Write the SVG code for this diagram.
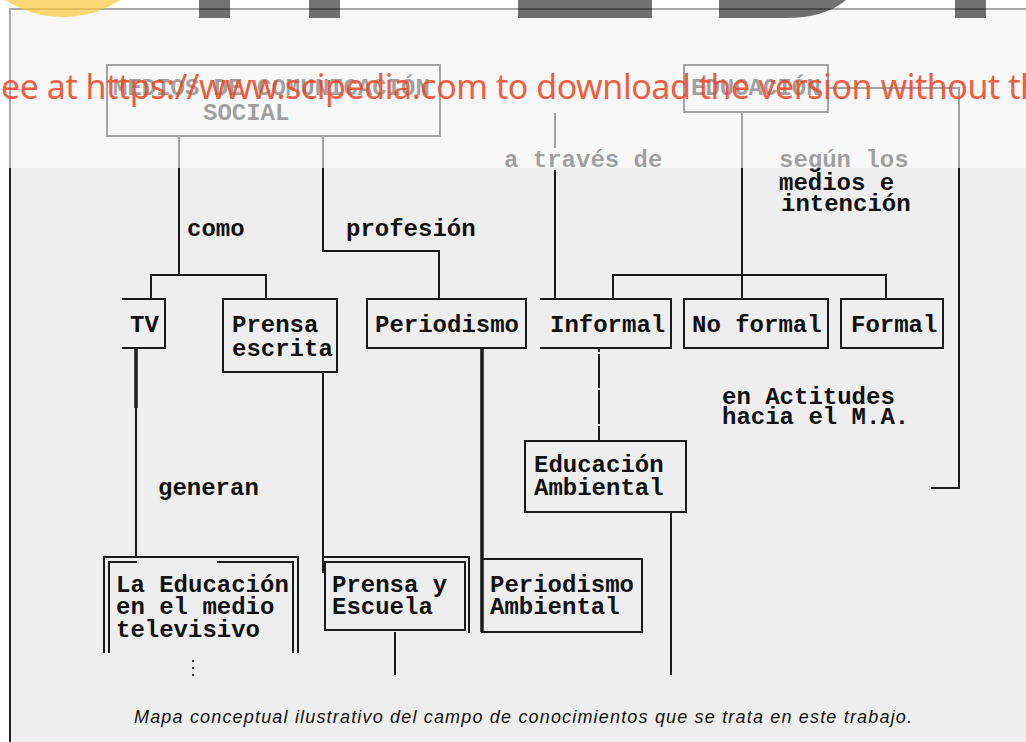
<svg xmlns="http://www.w3.org/2000/svg" width="1026" height="742" viewBox="0 0 1026 742">
<style>
.t{font-family:"Liberation Mono","DejaVu Sans Mono",monospace;font-weight:bold;font-size:24px;fill:#111}
.b{fill:none;stroke:#1a1a1a;stroke-width:2}
.c{fill:none;stroke:#1a1a1a;stroke-width:2}
.k{stroke-width:3.5}
.cap{font-family:"Liberation Sans",Arial,sans-serif;font-style:italic;font-size:18px;fill:#111}
</style>
<rect x="0" y="0" width="1026" height="742" fill="#ffffff"/>
<rect x="10" y="9" width="1020" height="740" fill="#eeeeee" stroke="#222" stroke-width="2"/>

<g id="connectors">
<path class="c" d="M179,136 V275 M151,299 V275 H266 V299"/>
<path class="c" d="M323,136 V251 H439 V299"/>
<path class="c" d="M555,113 V148 M555,170 V299"/>
<path class="c" d="M742,112 V299 M613,299 V275 H886 V299"/>
<path class="c" d="M828,88 H959 V488 H931"/>
<path class="c k" d="M136,348 V408"/>
<path class="c" d="M136,408 V557"/>
<path class="c" d="M323,372 V573"/>
<path class="c k" d="M482,348 V632"/>
<path class="c" d="M599,348 V441" stroke-dasharray="4 2 30 0"/>
<path class="c" d="M395,632 V675"/>
<path class="c" d="M671,512 V675"/>
<path d="M193,660 v2 M193,667 v2 M193,674 v2" stroke="#333" stroke-width="2"/>
</g>

<g id="medios">
<rect class="b" x="107" y="65" width="333" height="71"/>
<text class="t" x="113" y="95">MEDIOS DE COMUNICACIÓN</text>
<text class="t" x="203" y="120">SOCIAL</text>
</g>
<g id="educacion">
<rect class="b" x="684" y="65" width="144" height="47"/>
<text class="t" x="691" y="95">EDUCACIÓN</text>
</g>
<g id="lbl-como"><text class="t" x="187" y="236">como</text></g>
<g id="lbl-profesion"><text class="t" x="346" y="236">profesión</text></g>
<g id="lbl-traves"><text class="t" x="504" y="167">a través de</text></g>
<g id="lbl-segun"><text class="t" x="779" y="167">según los</text><text class="t" x="779" y="190">medios e</text><text class="t" x="781" y="211">intención</text></g>

<g id="tv">
<path class="b" d="M122,299 H165 V348 H122"/>
<text class="t" x="130" y="332">TV</text>
</g>
<g id="prensa-escrita">
<rect class="b" x="223" y="299" width="114" height="73"/>
<text class="t" x="232" y="332">Prensa</text>
<text class="t" x="232" y="356">escrita</text>
</g>
<g id="periodismo">
<rect class="b" x="367" y="299" width="159" height="49"/>
<text class="t" x="375" y="332">Periodismo</text>
</g>
<g id="informal">
<path class="b" d="M540,299 H671 V348 H540"/>
<text class="t" x="550" y="332">Informal</text>
</g>
<g id="no-formal">
<rect class="b" x="684" y="299" width="144" height="49"/>
<text class="t" x="692" y="332">No formal</text>
</g>
<g id="formal">
<rect class="b" x="841" y="299" width="102" height="49"/>
<text class="t" x="851" y="332">Formal</text>
</g>
<g id="lbl-actitudes"><text class="t" x="722" y="404">en Actitudes</text><text class="t" x="722" y="424">hacia el M.A.</text></g>
<g id="lbl-generan"><text class="t" x="158" y="495">generan</text></g>
<g id="educacion-ambiental">
<rect class="b" x="525" y="441" width="161" height="71"/>
<text class="t" x="534" y="472">Educación</text>
<text class="t" x="534" y="495">Ambiental</text>
</g>
<g id="la-educacion">
<path class="b" d="M104,653 V557 H298 V653"/>
<path class="b" d="M109,653 V562 H137 M217,562 H293 V653"/>
<text class="t" x="116" y="592">La Educación</text>
<text class="t" x="116" y="614">en el medio</text>
<text class="t" x="116" y="637">televisivo</text>
</g>
<g id="prensa-escuela">
<path class="b" d="M323,557 H469 V633"/>
<rect class="b" x="325" y="562" width="140" height="68"/>
<text class="t" x="332" y="592">Prensa y</text>
<text class="t" x="332" y="614">Escuela</text>
</g>
<g id="periodismo-ambiental">
<rect class="b" x="482" y="559" width="160" height="73"/>
<text class="t" x="490" y="592">Periodismo</text>
<text class="t" x="490" y="614">Ambiental</text>
</g>
<g id="caption"><text class="cap" x="134" y="723" textLength="778" lengthAdjust="spacing">Mapa conceptual ilustrativo del campo de conocimientos que se trata en este trabajo.</text></g>

<g id="watermark">
<rect x="0" y="0" width="1026" height="168" fill="#ffffff" opacity="0.6"/>
<rect x="0" y="0" width="1026" height="8" fill="#ffffff"/>
<line x1="10" y1="9" x2="1026" y2="9" stroke="#aaa" stroke-width="1.5"/>
<line x1="10" y1="9" x2="10" y2="168" stroke="#aaa" stroke-width="2"/>
<circle cx="63" cy="-89" r="106" fill="#fcc93a" opacity="0.7"/>
<g fill="#000" opacity="0.55">
<rect x="199" y="0" width="31" height="18"/>
<rect x="309" y="0" width="31" height="18"/>
<rect x="518" y="0" width="134" height="18"/>
<path d="M719,0 H846 Q825,18 785,18 H719 Z"/>
<rect x="955" y="0" width="31" height="18"/>
</g>
<text x="1" y="99" font-family="'Noto Sans','Open Sans',sans-serif" font-size="34" fill="#ee4422" opacity="0.85" textLength="1040" lengthAdjust="spacing">ee at https://www.scipedia.com to download the version without th</text>
</g>
</svg>
